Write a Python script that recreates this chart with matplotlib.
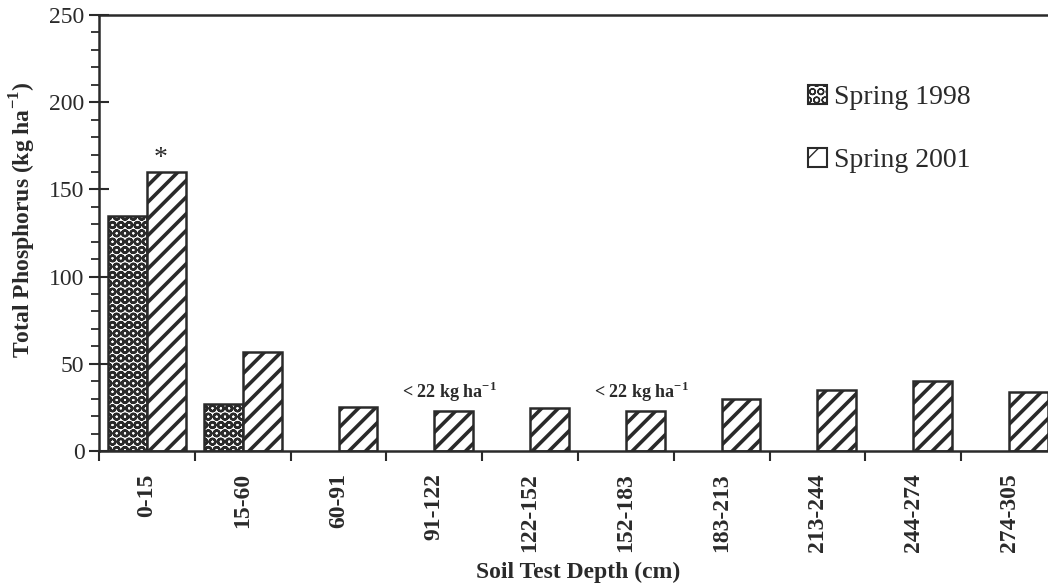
import numpy as np
import matplotlib
matplotlib.use("Agg")
import matplotlib.pyplot as plt
from matplotlib.patches import Patch

depths = ["0-15", "15-60", "60-91", "91-122", "122-152", "152-183",
          "183-213", "213-244", "244-274", "274-305"]
spring_1998 = [135, 27, None, None, None, None, None, None, None, None]
spring_2001 = [160, 57, 25, 23, 24.5, 23, 30, 35, 40, 34]
below_limit = ["91-122", "152-183"]
limit_label = "< 22 kg ha$^{\\mathbf{-1}}$"

ink = "#2a2a2a"
plt.rcParams["font.family"] = ["Liberation Serif", "DejaVu Serif"]
plt.rcParams["mathtext.fontset"] = "custom"
plt.rcParams["mathtext.rm"] = "Liberation Serif"
plt.rcParams["mathtext.bf"] = "Liberation Serif:bold"
plt.rcParams["hatch.color"] = ink

fig = plt.figure(figsize=(10.48, 5.86), dpi=100)
ax = fig.add_axes([0.0945, 0.2304, 0.914, 0.744])

x = np.arange(len(depths))
w = 0.405

x98 = [xi for xi, v in zip(x, spring_1998) if v is not None]
v98 = [v for v in spring_1998 if v is not None]

with plt.rc_context({"hatch.linewidth": 1.7}):
    ax.bar(np.array(x98) - w / 2, v98, width=w, facecolor="white",
           edgecolor=ink, linewidth=1.8, hatch="OO")
with plt.rc_context({"hatch.linewidth": 2.6}):
    ax.bar(x + w / 2, spring_2001, width=w, facecolor="white",
           edgecolor=ink, linewidth=1.8, hatch="//")

# significance marker on the surface layer
ax.text(x[0] + w / 2 - 0.06, spring_2001[0] + 0.5, "*", ha="center", va="bottom",
        fontsize=20, color=ink)

# detection-limit notes
for d in below_limit:
    i = depths.index(d)
    ax.text(x[i] + w / 2 - 0.04, 30.5, limit_label, ha="center", va="baseline",
            fontsize=13, fontweight="bold", color=ink)

ax.set_xlim(-0.5, len(depths) - 0.5)
ax.set_ylim(0, 250)
ax.set_yticks(np.arange(0, 251, 50))
ax.set_yticks(np.arange(0, 251, 10), minor=True)
ax.set_xticks(x - 0.5, minor=True)
ax.set_xticks(x)
ax.set_xticklabels(depths, rotation=90, fontweight="bold", fontsize=17, color=ink)
ax.tick_params(axis="x", which="major", length=0, pad=16)
ax.tick_params(axis="x", which="minor", direction="out", length=7, width=1.5, color=ink)
ax.tick_params(axis="y", which="major", direction="inout", length=15, width=1.5,
               labelsize=17, color=ink, labelcolor=ink, pad=3)
ax.tick_params(axis="y", which="minor", direction="out", length=6, width=1.3, color=ink)

for s in ["left", "bottom", "top", "right"]:
    ax.spines[s].set_color(ink)
    ax.spines[s].set_linewidth(1.8)

ax.set_ylabel("Total Phosphorus (kg ha$^{\\mathbf{-1}}$)", fontsize=17,
              fontweight="bold", color=ink)
ax.yaxis.set_label_coords(-0.064, 0.53)
ax.set_xlabel("Soil Test Depth (cm)", fontsize=17, fontweight="bold", color=ink)
ax.xaxis.set_label_coords(0.5, -0.255)

handles = []
with plt.rc_context({"hatch.linewidth": 1.2}):
    handles.append(Patch(facecolor="white", edgecolor=ink, linewidth=1.5, hatch="OO"))
with plt.rc_context({"hatch.linewidth": 2.0}):
    handles.append(Patch(facecolor="white", edgecolor=ink, linewidth=1.5, hatch="/"))
fig.legend(handles, ["Spring 1998", "Spring 2001"], loc="upper left",
           bbox_to_anchor=(783 / 1048, 1 - 60 / 586), frameon=False, fontsize=20,
           handlelength=0.7, handleheight=0.7, handletextpad=0.25,
           labelspacing=1.35, labelcolor=ink)

fig.savefig("out.png", dpi=100, facecolor="white")
